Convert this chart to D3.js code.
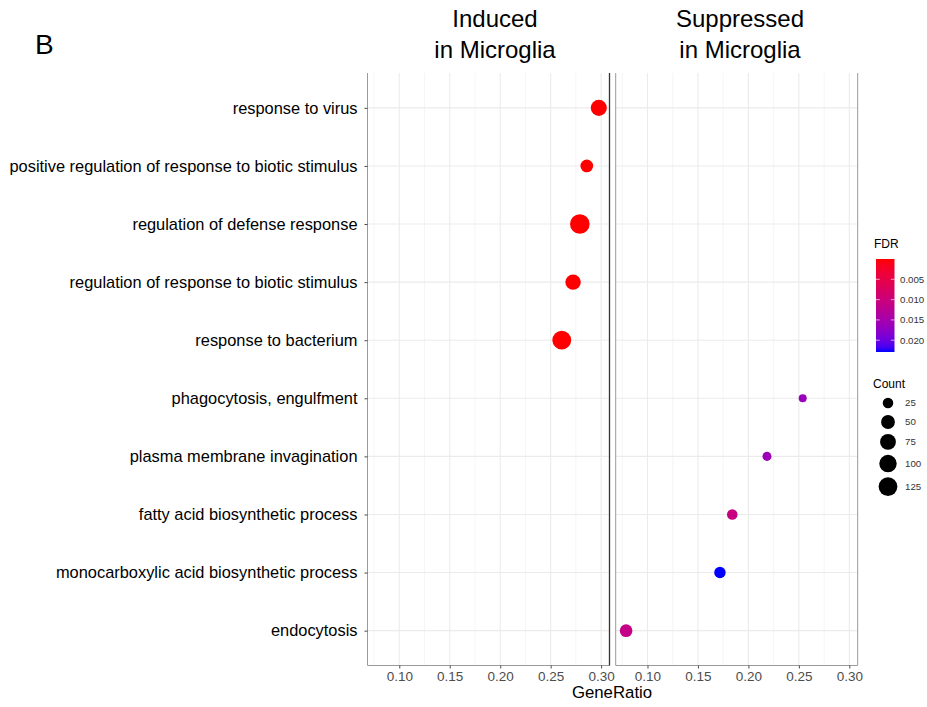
<!DOCTYPE html>
<html>
<head>
<meta charset="utf-8">
<script src="https://cdn.jsdelivr.net/npm/d3@7"></script>
<style>
  body { margin: 0; background: #fff; }
  svg { font-family: "Liberation Sans", Arial, sans-serif; display: block; }
</style>
</head>
<body>
<svg id="chart" width="927" height="707"></svg>
<script>
// GO terms, top to bottom
const terms = [
  "response to virus",
  "positive regulation of response to biotic stimulus",
  "regulation of defense response",
  "regulation of response to biotic stimulus",
  "response to bacterium",
  "phagocytosis, engulfment",
  "plasma membrane invagination",
  "fatty acid biosynthetic process",
  "monocarboxylic acid biosynthetic process",
  "endocytosis"
];
const panelTitles = [["Induced", "in Microglia"], ["Suppressed", "in Microglia"]];
const termPanel = [0, 0, 0, 0, 0, 1, 1, 1, 1, 1];
const geneRatio = [0.2977, 0.2858, 0.2789, 0.2722, 0.2610, 0.2538, 0.2184, 0.1840, 0.1718, 0.0788];
const counts = [79, 39, 142, 70, 125, 19, 20, 25, 30, 39];
const fdr = [2e-9, 5e-6, 1e-12, 3e-7, 1e-10, 0.0165, 0.0160, 0.0105, 0.0229, 0.0112];

const xTicks = [0.10, 0.15, 0.20, 0.25, 0.30];
const xMinor = [0.075, 0.125, 0.175, 0.225, 0.275];
const fdrBreaks = [0.005, 0.010, 0.015, 0.020];
const countBreaks = [25, 50, 75, 100, 125];

const svg = d3.select("#chart");

// layout
const panelTop = 73, panelBottom = 665.5;
const panelW = 242;
const panelX = [367.5, 615.7];
const xDomain = [0.0685, 0.3083];

const y = d3.scalePoint().domain(terms).range([panelTop, panelBottom]).padding(0.6);

const xScales = panelX.map(x0 => d3.scaleLinear().domain(xDomain).range([x0, x0 + panelW]));

const color = d3.scaleLinear()
  .domain(d3.extent(fdr))
  .range(["#ff0000", "#0000ff"])
  .interpolate(d3.interpolateLab);

// ggplot-like area size scale
const cMin = d3.min(counts), cMax = d3.max(counts);
const rLin = d3.scaleLinear().domain([0, 1]).range([4, 9.8]);
const radius = c => rLin(Math.sqrt(Math.max(0, (c - cMin) / (cMax - cMin))));

// label "B"
svg.append("text").attr("x", 35).attr("y", 53.5)
  .attr("font-size", 28).attr("fill", "#000").text("B");

// panel titles
const titleX = [495, 740];
panelTitles.forEach((lines, i) => {
  lines.forEach((t, j) => {
    svg.append("text")
      .attr("x", titleX[i]).attr("y", 27 + j * 30.5)
      .attr("text-anchor", "middle")
      .attr("font-size", 24).attr("fill", "#000")
      .text(t);
  });
});

// panels
xScales.forEach((x, p) => {
  const g = svg.append("g");
  const [x0, x1] = x.range();

  g.selectAll(".minor").data(xMinor).join("line")
    .attr("x1", d => x(d)).attr("x2", d => x(d))
    .attr("y1", panelTop).attr("y2", panelBottom)
    .attr("stroke", "#f3f3f3").attr("stroke-width", 0.8);

  g.selectAll(".major").data(xTicks).join("line")
    .attr("x1", d => x(d)).attr("x2", d => x(d))
    .attr("y1", panelTop).attr("y2", panelBottom)
    .attr("stroke", "#ebebeb").attr("stroke-width", 1.1);

  g.selectAll(".hgrid").data(terms).join("line")
    .attr("x1", x0).attr("x2", x1)
    .attr("y1", d => y(d)).attr("y2", d => y(d))
    .attr("stroke", "#ebebeb").attr("stroke-width", 1.1);

  // border: left, bottom, right
  g.append("path")
    .attr("d", `M${x0},${panelTop}V${panelBottom}H${x1}V${panelTop}`)
    .attr("fill", "none").attr("stroke", "#9a9a9a").attr("stroke-width", 1);

  // x axis
  const ax = g.append("g")
    .attr("transform", `translate(0,${panelBottom})`)
    .call(d3.axisBottom(x).tickValues(xTicks).tickFormat(d3.format(".2f")).tickSize(3).tickPadding(3));
  ax.select(".domain").remove();
  ax.selectAll(".tick line").attr("stroke", "#4d4d4d");
  ax.selectAll(".tick text").attr("font-size", 13.5).attr("fill", "#4d4d4d")
    .attr("font-family", "'Liberation Sans', Arial, sans-serif");

  // points
  const idx = d3.range(terms.length).filter(i => termPanel[i] === p);
  g.selectAll(".dot").data(idx).join("circle")
    .attr("cx", i => x(geneRatio[i]))
    .attr("cy", i => y(terms[i]))
    .attr("r", i => radius(counts[i]))
    .attr("fill", i => color(fdr[i]));
});

// dark line on the right of the first panel
svg.append("line")
  .attr("x1", panelX[0] + panelW).attr("x2", panelX[0] + panelW)
  .attr("y1", panelTop).attr("y2", panelBottom)
  .attr("stroke", "#333").attr("stroke-width", 1.3);

// y axis
const ay = svg.append("g")
  .attr("transform", `translate(${panelX[0]},0)`)
  .call(d3.axisLeft(y).tickSize(3).tickPadding(7));
ay.select(".domain").remove();
ay.selectAll(".tick line").attr("stroke", "#4d4d4d");
ay.selectAll(".tick text").attr("font-size", 16.4).attr("fill", "#000")
  .attr("font-family", "'Liberation Sans', Arial, sans-serif");

// x axis title
svg.append("text")
  .attr("x", 612).attr("y", 698)
  .attr("text-anchor", "middle").attr("font-size", 16.8).attr("fill", "#000")
  .text("GeneRatio");

// FDR colorbar legend
const barX = 876, barW = 18.5, barTop = 259, barBottom = 352;
svg.append("text").attr("x", 874).attr("y", 248)
  .attr("font-size", 12).attr("fill", "#000").text("FDR");

const barY = d3.scaleLinear().domain(d3.extent(fdr)).range([barTop, barBottom]);
const grad = svg.append("defs").append("linearGradient")
  .attr("id", "fdrGrad").attr("x1", 0).attr("x2", 0).attr("y1", 0).attr("y2", 1);
d3.range(0, 1.0001, 0.05).forEach(t => {
  const v = d3.extent(fdr)[0] + t * (d3.extent(fdr)[1] - d3.extent(fdr)[0]);
  grad.append("stop").attr("offset", t).attr("stop-color", color(v));
});
svg.append("rect")
  .attr("x", barX).attr("y", barTop).attr("width", barW).attr("height", barBottom - barTop)
  .attr("fill", "url(#fdrGrad)");
fdrBreaks.forEach(b => {
  const yy = barY(b);
  svg.append("line").attr("x1", barX).attr("x2", barX + barW / 5)
    .attr("y1", yy).attr("y2", yy).attr("stroke", "#fff").attr("stroke-width", 0.8).attr("stroke-opacity", 0.8);
  svg.append("line").attr("x1", barX + barW - barW / 5).attr("x2", barX + barW)
    .attr("y1", yy).attr("y2", yy).attr("stroke", "#fff").attr("stroke-width", 0.8).attr("stroke-opacity", 0.8);
  svg.append("text").attr("x", 900).attr("y", yy).attr("dy", "0.35em")
    .attr("font-size", 9.7).attr("fill", "#333").text(d3.format(".3f")(b));
});

// Count legend
svg.append("text").attr("x", 873).attr("y", 388)
  .attr("font-size", 12).attr("fill", "#000").text("Count");
let ky = 403;
countBreaks.forEach((c, i) => {
  const r = radius(c);
  if (i > 0) {
    const hPrev = Math.max(19, 2 * radius(countBreaks[i - 1]) + 5);
    const h = Math.max(19, 2 * r + 5);
    ky += (hPrev + h) / 2;
  }
  svg.append("circle").attr("cx", 888).attr("cy", ky).attr("r", r).attr("fill", "#000");
  svg.append("text").attr("x", 905).attr("y", ky).attr("dy", "0.35em")
    .attr("font-size", 9.7).attr("fill", "#333").text(c);
});
</script>
</body>
</html>
